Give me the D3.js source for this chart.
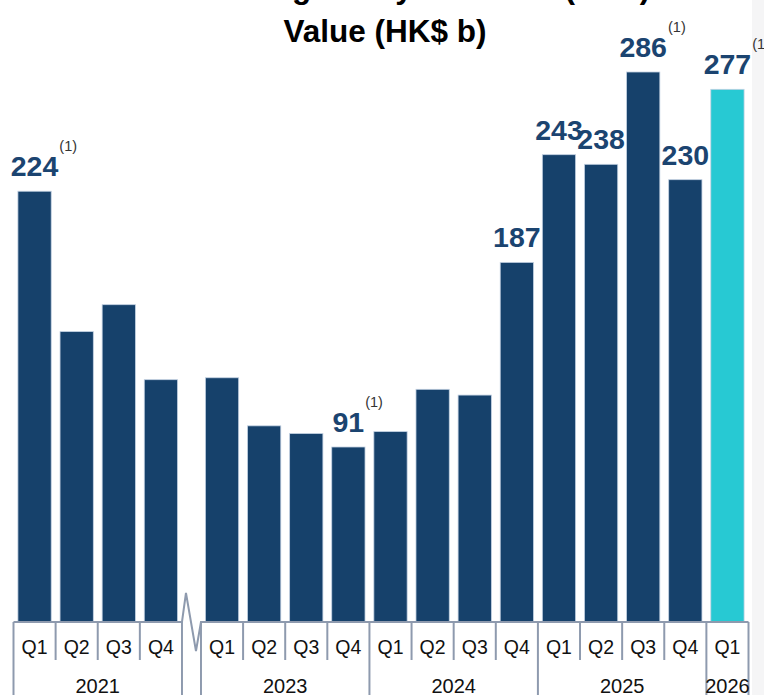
<!DOCTYPE html>
<html>
<head>
<meta charset="utf-8">
<script src="https://cdn.jsdelivr.net/npm/d3@7"></script>
<style>
    body { margin: 0; background: #fff; }
    svg { display: block; font-family: "Liberation Sans", Arial, sans-serif; }
    .bar { stroke: #c3d1e2; stroke-width: 0.8; }
    .axisline { stroke: #8e9aae; stroke-width: 2; fill: none; }
    .qlabel { font-size: 19.5px; fill: #111; text-anchor: middle; }
    .ylabel { font-size: 20px; fill: #111; text-anchor: middle; }
    .value { font-size: 28.5px; font-weight: bold; fill: #1b4470; text-anchor: middle; }
    .note { font-size: 14.5px; fill: #333; }
    .title { font-size: 31.5px; font-weight: bold; fill: #000; text-anchor: middle; }
</style>
</head>
<body>
<script>
const YEARS = ['2021', '2023', '2024', '2025', '2026'];
const QUARTERS_PER_YEAR = [4, 4, 4, 4, 1];
const QUARTERS = ['Q1', 'Q2', 'Q3', 'Q4'];
const ADT_VALUES = [224, 151, 165, 126, 127, 102, 98, 91, 99, 121, 118, 187, 243, 238, 286, 230, 277];
const LABELLED = ['2021 Q1', '2023 Q4', '2024 Q4', '2025 Q1', '2025 Q2', '2025 Q3', '2025 Q4', '2026 Q1'];
const FOOTNOTED = ['2021 Q1', '2023 Q4', '2025 Q3', '2026 Q1'];
const HIGHLIGHT = ['2026 Q1'];

const PARAMS = {
    width: 764,
    height: 695,
    left: 13.5,
    right: 748.5,
    baseline: 622,
    top: 72,
    breakGap: 19,
    breakAfter: 4,
    pad: 0.21,
};

// one entry per bar
const DATA = [];
YEARS.forEach((year, yi) => {
    for (let q = 0; q < QUARTERS_PER_YEAR[yi]; q++) {
        DATA.push({ year: year, quarter: QUARTERS[q], key: year + ' ' + QUARTERS[q], value: ADT_VALUES[DATA.length] });
    }
});

const svg = d3.select('body').append('svg')
    .attr('width', PARAMS.width)
    .attr('height', PARAMS.height);

// faint strip at the right border of the slide
svg.append('rect')
    .attr('x', 752).attr('y', 0).attr('width', 12).attr('height', PARAMS.height)
    .attr('fill', '#f5f5f6');

const x = d3.scaleBand()
    .domain(DATA.map(d => d.key))
    .range([PARAMS.left, PARAMS.right - PARAMS.breakGap])
    .paddingInner(PARAMS.pad)
    .paddingOuter(PARAMS.pad / 2);

const y = d3.scaleLinear()
    .domain([0, d3.max(ADT_VALUES)])
    .range([PARAMS.baseline, PARAMS.top]);

// bars after the axis break are shifted right
const xPos = (d, i) => x(d.key) + (i >= PARAMS.breakAfter ? PARAMS.breakGap : 0);
const slotLeft = (d, i) => xPos(d, i) - x.step() * PARAMS.pad / 2;
const slotRight = (d, i) => slotLeft(d, i) + x.step();

// title (first line is cut off by the crop)
svg.append('text').classed('title', true)
    .attr('x', 428).attr('y', -2)
    .text('Average Daily Turnover (ADT)');
svg.append('text').classed('title', true)
    .attr('x', 385).attr('y', 42)
    .text('Value (HK$ b)');

svg.selectAll('.bar')
    .data(DATA)
    .enter()
    .append('rect')
    .classed('bar', true)
    .attr('x', xPos)
    .attr('y', d => y(d.value))
    .attr('width', x.bandwidth())
    .attr('height', d => y(0) - y(d.value))
    .attr('fill', d => HIGHLIGHT.includes(d.key) ? '#27c9d3' : '#16416b');

// value labels
const labelled = DATA.map((d, i) => Object.assign({ i: i }, d)).filter(d => LABELLED.includes(d.key));
const values = svg.selectAll('.value')
    .data(labelled)
    .enter()
    .append('text')
    .classed('value', true)
    .attr('x', d => xPos(d, d.i) + x.bandwidth() / 2)
    .attr('y', d => y(d.value) - 15)
    .text(d => d.value);

values.each(function (d) {
    if (!FOOTNOTED.includes(d.key)) return;
    const w = this.getComputedTextLength();
    svg.append('text').classed('note', true)
        .attr('x', xPos(d, d.i) + x.bandwidth() / 2 + w / 2 + 1)
        .attr('y', y(d.value) - 15 - 25)
        .text('(1)');
});

// category axis
const bottom = PARAMS.height;
const midTick = 660;
const first = DATA.slice(0, PARAMS.breakAfter);
const firstEnd = slotRight(first[first.length - 1], PARAMS.breakAfter - 1);
const secondStart = slotLeft(DATA[PARAMS.breakAfter], PARAMS.breakAfter);

svg.append('path').classed('axisline', true)
    .attr('d', d3.line()([
        [PARAMS.left, PARAMS.baseline], [firstEnd, PARAMS.baseline],
        [firstEnd + 4, PARAMS.baseline - 29], [firstEnd + 14, PARAMS.baseline + 29],
        [secondStart, PARAMS.baseline], [PARAMS.right, PARAMS.baseline]
    ]));

// dividers: long ones at year boundaries, short ones between quarters
const edges = [];
DATA.forEach((d, i) => {
    const isYearStart = i === 0 || DATA[i - 1].year !== d.year;
    edges.push({ x: slotLeft(d, i), long: isYearStart });
    const isYearEnd = i === DATA.length - 1 || DATA[i + 1].year !== d.year;
    if (isYearEnd && (i === DATA.length - 1 || i === PARAMS.breakAfter - 1)) edges.push({ x: slotRight(d, i), long: true });
});

svg.selectAll('.divider')
    .data(edges)
    .enter()
    .append('line')
    .classed('axisline', true)
    .attr('x1', e => e.x).attr('x2', e => e.x)
    .attr('y1', PARAMS.baseline)
    .attr('y2', e => e.long ? bottom : midTick);

svg.selectAll('.qlabel')
    .data(DATA)
    .enter()
    .append('text')
    .classed('qlabel', true)
    .attr('x', (d, i) => xPos(d, i) + x.bandwidth() / 2)
    .attr('y', 654)
    .text(d => d.quarter);

const groups = YEARS.map(year => {
    const idx = DATA.map((d, i) => i).filter(i => DATA[i].year === year);
    const a = idx[0], b = idx[idx.length - 1];
    return { year: year, x0: slotLeft(DATA[a], a), x1: slotRight(DATA[b], b) };
});

svg.selectAll('.ylabel')
    .data(groups)
    .enter()
    .append('text')
    .classed('ylabel', true)
    .attr('x', g => (g.x0 + g.x1) / 2)
    .attr('y', 693)
    .text(g => g.year);
</script>
</body>
</html>
